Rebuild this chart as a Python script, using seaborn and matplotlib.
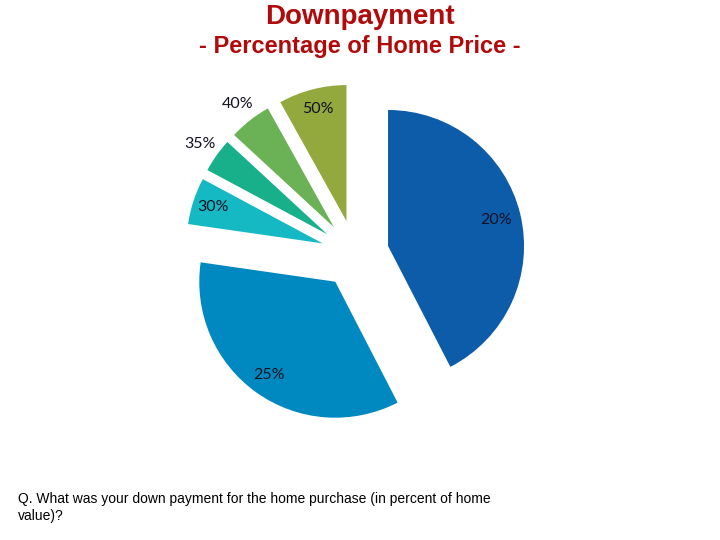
import matplotlib
matplotlib.use("Agg")
import matplotlib.pyplot as plt
import seaborn as sns
import numpy as np

sns.set_theme(style="white")
plt.rcParams['font.family'] = ['Liberation Sans', 'DejaVu Sans']

# Data (share of respondents)
categories = ["20%", "25%", "30%", "35%", "40%", "50%"]
shares = [42, 34.5, 5.5, 4, 5, 8]
colors = ["#0D5CAA", "#0089C0", "#14B9C4", "#17B08A", "#6BB257", "#93A83D"]
label_dist = [0.82, 0.84, 0.85, 1.15, 1.15, 0.85]

title = "Downpayment"
subtitle = "- Percentage of Home Price -"
footnote = "Q. What was your down payment for the home purchase (in percent of home\nvalue)?"

fig = plt.figure(figsize=(7.2, 5.4), dpi=100)
# 136 px per data unit, pie centre at (355, 254) px
ax = fig.add_axes([(355 - 272)/720, (286 - 272)/540, 544/720, 544/540])
wedges, _ = ax.pie(shares, colors=colors, startangle=90, counterclock=False,
                   explode=[0.25]*len(shares), radius=1,
                   wedgeprops=dict(linewidth=0))
ax.set_xlim(-2, 2)
ax.set_ylim(-2, 2)
ax.set_aspect("equal")
ax.axis("off")

for w, lab, d in zip(wedges, categories, label_dist):
    ang = np.deg2rad((w.theta1 + w.theta2) / 2)
    cx, cy = w.center
    ax.text(cx + d * w.r * np.cos(ang), cy + d * w.r * np.sin(ang), lab,
            ha="center", va="center", fontsize=11.5, color="#111122",
            family=["Lato", "DejaVu Sans"])

fig.text(0.5, 1 - 17/540, title, ha="center", va="center", fontsize=20,
         fontweight="bold", color="#B00A0A")
fig.text(0.5, 1 - 47/540, subtitle, ha="center", va="center", fontsize=17,
         fontweight="bold", color="#B00A0A")
fig.text(18/720, 1 - 492/540, footnote, ha="left", va="top", fontsize=10,
         color="black", linespacing=1.3)

fig.savefig("out.png", dpi=100)
